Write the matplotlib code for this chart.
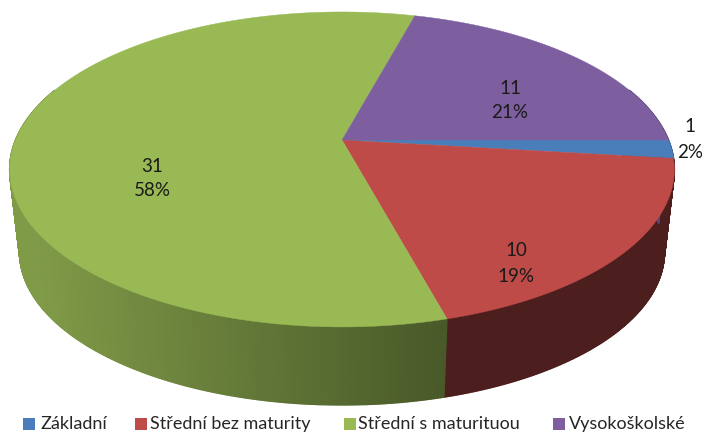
import numpy as np
import matplotlib
matplotlib.use("Agg")
import matplotlib.pyplot as plt
from matplotlib.patches import Polygon, Rectangle

# Data
categories = ["Základní", "Střední bez maturity", "Střední s maturituou", "Vysokoškolské"]
counts = [1, 10, 31, 11]
percents = ["2%", "19%", "58%", "21%"]

top_colors = ["#4a7ebb", "#be4b48", "#98b954", "#7d5fa0"]
side_stops = [
    [(58, 95, 140), (58, 95, 140)],
    [(76, 30, 29), (76, 30, 29)],
    [(128, 155, 72), (72, 88, 40)],
    [(90, 70, 115), (90, 70, 115)],
]
label_xy = [(690, 139), (516, 263), (152, 178), (510, 100)]
legend_box_x = [23, 135, 344, 553]
legend_text_x = [40, 150, 358, 569]

# Perspective of the tilted disc, in pixels
CX, CY = 342, 140
BX, AY = 326.5, 152
P = 0.187
DROP = 83.6
SHRINK = 0.97

plt.rcParams["font.family"] = ["Lato", "DejaVu Sans"]


# Project clockwise angle (0 = top of the disc) to the picture
def project(theta, lower=False):
    u = np.sin(theta)
    v = -np.cos(theta)
    w = 1 - P * v
    s = SHRINK if lower else 1.0
    d = DROP if lower else 0.0
    return CX + s * BX * u / w, CY + d + s * AY * v / w


def side_color(stops, frac):
    c = np.array(stops[0]) + (np.array(stops[1]) - np.array(stops[0])) * frac
    return c / 255


fig = plt.figure(figsize=(7.04, 4.33), dpi=100)
ax = fig.add_axes([0, 0, 1, 1])
ax.set_xlim(0, 704)
ax.set_ylim(433, 0)
ax.axis("off")

fractions = np.array(counts) / sum(counts)
starts = np.pi / 2 + 2 * np.pi * np.concatenate([[0], np.cumsum(fractions)[:-1]])
ends = starts + 2 * np.pi * fractions

# Side wall first, the top face covers what is hidden
for i in range(len(counts)):
    steps = np.linspace(starts[i], ends[i], int(counts[i] * 24) + 4)
    for a, b in zip(steps[:-1], steps[1:]):
        if np.cos((a + b) / 2) > 0.35:
            continue
        xa, ya = project(a)
        xb, yb = project(b)
        xc, yc = project(b, lower=True)
        xd, yd = project(a, lower=True)
        # shading follows the position along the front of the disc
        frac = 1 - np.clip((450 - (xa + xb) / 2) / 420, 0, 1)
        col = side_color(side_stops[i], frac)
        ax.add_patch(Polygon([(xa, ya), (xb, yb), (xc, yc), (xd, yd)],
                             facecolor=col, edgecolor=col, linewidth=1.0))

# Top face
for i in range(len(counts)):
    t = np.linspace(starts[i], ends[i], 120)
    x, y = project(t)
    pts = [(CX, CY)] + list(zip(x, y))
    ax.add_patch(Polygon(pts, facecolor=top_colors[i], edgecolor=top_colors[i], linewidth=0.3))

# Data labels
for i in range(len(counts)):
    lx, ly = label_xy[i]
    ax.text(lx, ly - 12, str(counts[i]), ha="center", va="center", fontsize=13.5, color="#1a1a1a")
    ax.text(lx, ly + 13, percents[i], ha="center", va="center", fontsize=13.5, color="#1a1a1a")

# Legend
for i in range(len(categories)):
    ax.add_patch(Rectangle((legend_box_x[i], 418), 11.5, 11.5, facecolor=top_colors[i], edgecolor="none"))
    ax.text(legend_text_x[i], 424, categories[i], ha="left", va="center", fontsize=13, color="#262626")

fig.savefig("out.png", dpi=100)
